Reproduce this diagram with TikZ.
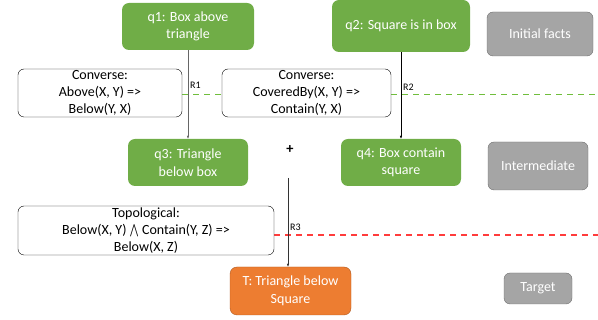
\documentclass[tikz,border=0pt]{standalone}
\usepackage{fontspec}
\setmainfont{Carlito}
\usetikzlibrary{arrows.meta,backgrounds}
\definecolor{factgreen}{HTML}{70AD47}
\definecolor{goalorange}{HTML}{ED7D31}
\definecolor{goaledge}{HTML}{AE5A21}
\definecolor{legendgray}{HTML}{A5A5A5}
\definecolor{legendedge}{HTML}{6F6F6F}
\definecolor{levelgreen}{RGB}{112,190,60}
\definecolor{levelred}{RGB}{255,60,60}
\begin{document}
\begin{tikzpicture}[
				x=1pt, y=-1pt,
				fact/.style={fill=factgreen, text=white, rounded corners=7pt, align=center, inner sep=0pt, font=\fontsize{14}{17.5}\selectfont},
				goal/.style={fact, fill=goalorange, draw=goaledge},
				rulebox/.style={draw=black, fill=white, rounded corners=6pt, align=center, inner sep=0pt, font=\fontsize{14}{17}\selectfont},
				legendbox/.style={draw=legendedge, fill=legendgray, text=white, rounded corners=6pt, inner sep=0pt, font=\fontsize{14}{15}\selectfont},
				rname/.style={font=\fontsize{10}{11}\selectfont, text=black, anchor=west, inner sep=0pt},
				infer/.style={draw, -{Latex[length=3pt,width=2.5pt]}},
				levelline/.style={dash pattern=on 6pt off 5pt, line width=1.2pt}
			]
			\useasboundingbox (0,0) rectangle (598,320);
			% facts
			\node[fact, minimum width=132pt, minimum height=47pt] (q1) at (188,26.5) {q1: Box above\\triangle};
			\node[fact, minimum width=138pt, minimum height=52pt] (q2) at (401,26) {q2: Square is in box};
			\node[fact, minimum width=120pt, minimum height=47pt] (q3) at (188,162.5) {q3: Triangle\\below box};
			\node[fact, minimum width=120pt, minimum height=47pt] (q4) at (401,162.5) {q4: Box contain\\square};
			\node[goal, minimum width=121pt, minimum height=48pt] (T) at (290.5,291) {T: Triangle below\\Square};
			\node[font=\bfseries\Large] (plus) at (290,150) {+};
			% rules
			\node[rulebox, minimum width=164pt, minimum height=48pt] (conv1) at (100,93) {Converse:\\Above(X, Y) =>\\Below(Y, X)};
			\node[rulebox, minimum width=169pt, minimum height=48pt] (conv2) at (306.5,93) {Converse:\\CoveredBy(X, Y) =>\\Contain(Y, X)};
			\node[rulebox, minimum width=256pt, minimum height=49pt] (topo) at (146,230.5) {Topological:\\Below(X, Y) \raisebox{-1pt}{\scalebox{1.1}[1.25]{$\bigwedge$}} Contain(Y, Z) =>\\Below(X, Z)};
			% legend
			\node[legendbox, minimum width=106pt, minimum height=44pt] (init) at (540,34) {Initial facts};
			\node[legendbox, minimum width=100pt, minimum height=48pt] (inter) at (538,166) {Intermediate};
			\node[legendbox, minimum width=68pt, minimum height=31pt] (target) at (538,288.5) {Target};
			% level lines
			\coordinate (greenend) at (598,94.5);
			\coordinate (redend) at (598,235);
			\coordinate (r3top) at (288,178);
			\begin{pgfonlayer}{background}
				\draw[levelline, draw=levelred] (topo.east |- redend) -- (redend);
				\draw[levelline, draw=levelgreen] (conv1.east |- greenend) -- (conv2.west |- greenend);
				\draw[levelline, draw=levelgreen] (conv2.east |- greenend) -- (greenend);
			\end{pgfonlayer}
			% inference steps
			\draw[infer, black!60] (q1) -- (q3) node[rname, pos=0.4, xshift=2pt] {R1};
			\draw[infer, black] (q2) -- (q4) node[rname, pos=0.4, xshift=2pt] {R2};
			\draw[infer, black!80] (r3top) -- (r3top |- T.north) node[rname, pos=0.55, xshift=2pt] {R3};
		\end{tikzpicture}
\end{document}
